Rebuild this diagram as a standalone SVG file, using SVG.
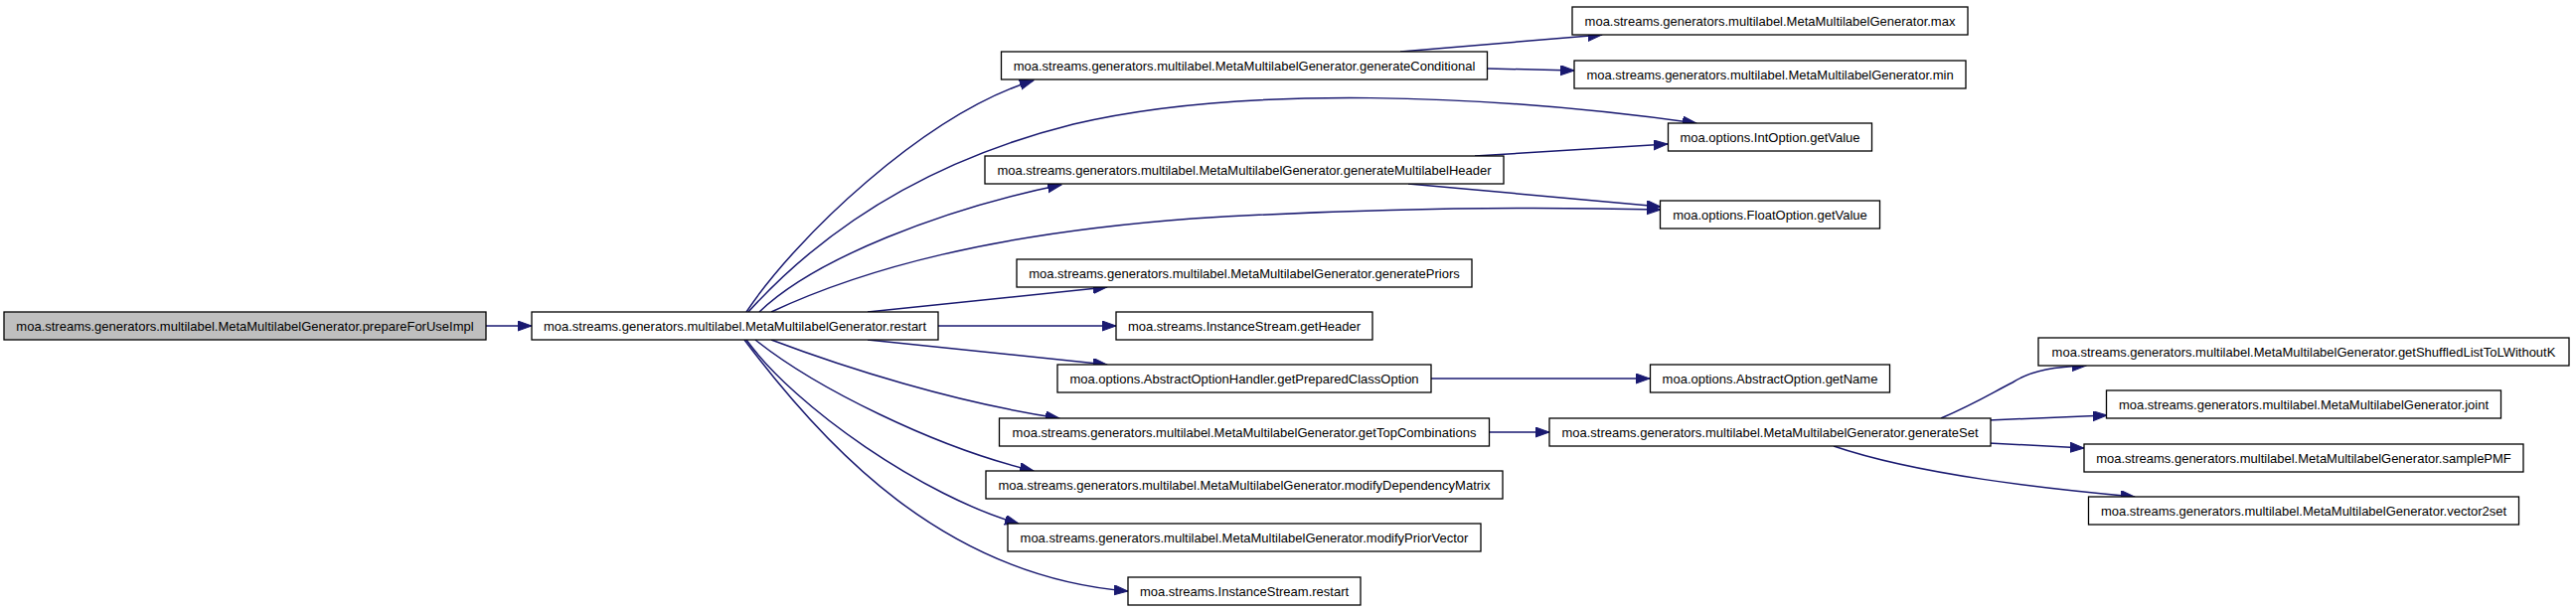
<svg xmlns="http://www.w3.org/2000/svg" width="2592" height="615" viewBox="0 0 2592 615">
<style>
.n rect{fill:#ffffff;stroke:#000000;stroke-width:1.3}
.n.root rect{fill:#bfbfbf}
.n text{font-family:"Liberation Sans",Arial,sans-serif;font-size:13px;fill:#000;text-anchor:middle}
.e path{fill:none;stroke:#191970;stroke-width:1.5;marker-end:url(#a)}
</style>
<defs>
<marker id="a" markerUnits="userSpaceOnUse" markerWidth="15" markerHeight="11" refX="14" refY="5" orient="auto">
<path d="M0,0 L14,5 L0,10 z" fill="#191970" stroke="#191970" stroke-width="1"/>
</marker>
</defs>
<rect width="2592" height="615" fill="#ffffff"/>
<g id="edges" class="e">
<path d="M489,328 L535,328"/>
<path d="M751,314 C800,240 930,115 1040,81"/>
<path d="M753,314 C820,240 920,165 1080,125 C1250,85 1500,95 1707,124"/>
<path d="M764,314 C820,260 950,210 1068,186"/>
<path d="M776,314 C870,270 1000,235 1200,220 C1400,208 1550,208 1671,211"/>
<path d="M873,314 L1114,289"/>
<path d="M944,328 L1123,328"/>
<path d="M873,342 L1114,367"/>
<path d="M776,342 C850,370 960,405 1066,421"/>
<path d="M760,342 C820,390 940,450 1040,474"/>
<path d="M751,342 C800,410 930,500 1025,527"/>
<path d="M749,342 C830,450 950,580 1135,595"/>
<path d="M1409,52 L1612,35"/>
<path d="M1497,69 L1584,71"/>
<path d="M1484,157 L1678,145"/>
<path d="M1417,185 L1671,208"/>
<path d="M1440,381 L1660,381"/>
<path d="M1498,435 L1559,435"/>
<path d="M1953,421 C1990,405 2005,395 2025,385 C2045,372 2070,369 2099,368"/>
<path d="M2001,423 L2120,418"/>
<path d="M2001,446 L2097,451"/>
<path d="M1845,449 C1930,478 2060,492 2148,500"/>
</g>
<g id="prepareForUseImpl" class="n root"><rect x="4" y="314" width="485" height="28"/><text x="246.5" y="332.5">moa.streams.generators.multilabel.MetaMultilabelGenerator.prepareForUseImpl</text></g>
<g id="restart" class="n"><rect x="535" y="314" width="409" height="28"/><text x="739.5" y="332.5">moa.streams.generators.multilabel.MetaMultilabelGenerator.restart</text></g>
<g id="generateConditional" class="n"><rect x="1007.5" y="52" width="489" height="28"/><text x="1252" y="70.5">moa.streams.generators.multilabel.MetaMultilabelGenerator.generateConditional</text></g>
<g id="generateMultilabelHeader" class="n"><rect x="991" y="157" width="522" height="28"/><text x="1252" y="175.5">moa.streams.generators.multilabel.MetaMultilabelGenerator.generateMultilabelHeader</text></g>
<g id="generatePriors" class="n"><rect x="1023" y="261" width="458" height="28"/><text x="1252" y="279.5">moa.streams.generators.multilabel.MetaMultilabelGenerator.generatePriors</text></g>
<g id="getHeader" class="n"><rect x="1123" y="314" width="258" height="28"/><text x="1252" y="332.5">moa.streams.InstanceStream.getHeader</text></g>
<g id="getPreparedClassOption" class="n"><rect x="1064" y="367" width="376" height="28"/><text x="1252" y="385.5">moa.options.AbstractOptionHandler.getPreparedClassOption</text></g>
<g id="getTopCombinations" class="n"><rect x="1005.5" y="421" width="493" height="28"/><text x="1252" y="439.5">moa.streams.generators.multilabel.MetaMultilabelGenerator.getTopCombinations</text></g>
<g id="modifyDependencyMatrix" class="n"><rect x="992" y="474" width="520" height="28"/><text x="1252" y="492.5">moa.streams.generators.multilabel.MetaMultilabelGenerator.modifyDependencyMatrix</text></g>
<g id="modifyPriorVector" class="n"><rect x="1014" y="527" width="476" height="28"/><text x="1252" y="545.5">moa.streams.generators.multilabel.MetaMultilabelGenerator.modifyPriorVector</text></g>
<g id="InstanceStream_restart" class="n"><rect x="1135" y="581" width="234" height="28"/><text x="1252" y="599.5">moa.streams.InstanceStream.restart</text></g>
<g id="max" class="n"><rect x="1582" y="7" width="398" height="28"/><text x="1781" y="25.5">moa.streams.generators.multilabel.MetaMultilabelGenerator.max</text></g>
<g id="min" class="n"><rect x="1584" y="61" width="394" height="28"/><text x="1781" y="79.5">moa.streams.generators.multilabel.MetaMultilabelGenerator.min</text></g>
<g id="IntOption_getValue" class="n"><rect x="1678.5" y="124" width="205" height="28"/><text x="1781" y="142.5">moa.options.IntOption.getValue</text></g>
<g id="FloatOption_getValue" class="n"><rect x="1670.5" y="202" width="221" height="28"/><text x="1781" y="220.5">moa.options.FloatOption.getValue</text></g>
<g id="getName" class="n"><rect x="1660.5" y="367" width="241" height="28"/><text x="1781" y="385.5">moa.options.AbstractOption.getName</text></g>
<g id="generateSet" class="n"><rect x="1559" y="421" width="444" height="28"/><text x="1781" y="439.5">moa.streams.generators.multilabel.MetaMultilabelGenerator.generateSet</text></g>
<g id="getShuffledListToLWithoutK" class="n"><rect x="2051" y="340" width="534" height="28"/><text x="2318" y="358.5">moa.streams.generators.multilabel.MetaMultilabelGenerator.getShuffledListToLWithoutK</text></g>
<g id="joint" class="n"><rect x="2119.5" y="393" width="397" height="28"/><text x="2318" y="411.5">moa.streams.generators.multilabel.MetaMultilabelGenerator.joint</text></g>
<g id="samplePMF" class="n"><rect x="2097" y="447" width="442" height="28"/><text x="2318" y="465.5">moa.streams.generators.multilabel.MetaMultilabelGenerator.samplePMF</text></g>
<g id="vector2set" class="n"><rect x="2101.5" y="500" width="433" height="28"/><text x="2318" y="518.5">moa.streams.generators.multilabel.MetaMultilabelGenerator.vector2set</text></g>
</svg>
